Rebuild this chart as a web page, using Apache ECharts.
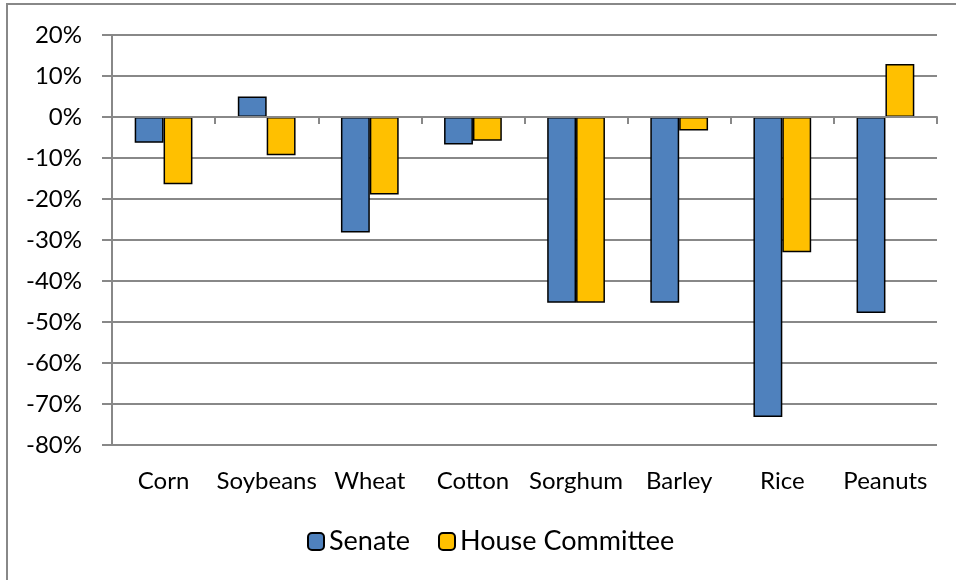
<!DOCTYPE html>
<html>
<head>
<meta charset="utf-8">
<script src="https://cdn.jsdelivr.net/npm/echarts@6/dist/echarts.min.js"></script>
<style>
  html, body { margin: 0; padding: 0; background: #fff; }
  #chart { width: 956px; height: 580px; }
</style>
</head>
<body>
<div id="chart"></div>
<script>
'use strict';

var categories = ['Corn', 'Soybeans', 'Wheat', 'Cotton', 'Sorghum', 'Barley', 'Rice', 'Peanuts'];
var senate = [-6.3, 5.0, -28.2, -6.7, -45.3, -45.3, -73.2, -47.8];
var houseCommittee = [-16.4, -9.3, -18.9, -5.8, -45.3, -3.3, -33.0, 12.9];
var yTicks = { min: -80, max: 20, interval: 10 };

var font = 'Lato, "Open Sans", sans-serif';
var gray = '#888888';

var chart = echarts.init(document.getElementById('chart'));

var option = {
    backgroundColor: '#ffffff',
    textStyle: { fontFamily: font },
    animation: false,
    graphic: [{
        type: 'rect',
        shape: { x: 7, y: 4, width: 1000, height: 1000 },
        style: { fill: 'none', stroke: gray, lineWidth: 2 },
        silent: true
    }],
    grid: { left: 112, right: 19, top: 35, bottom: 135 },
    legend: {
        left: 302,
        top: 523,
        itemWidth: 16,
        itemHeight: 17,
        itemGap: 28,
        textStyle: { fontFamily: font, fontSize: 27, color: '#000' },
        data: ['Senate', 'House Committee']
    },
    xAxis: [{
        // axis line on the 0% gridline, ticks pointing down
        type: 'category',
        position: 'top',
        data: categories,
        z: 5,
        axisLine: { onZero: true, lineStyle: { color: gray, width: 2 } },
        axisTick: { show: true, inside: true, length: 7, lineStyle: { color: gray, width: 2 } },
        axisLabel: { show: false },
        splitLine: { show: false }
    }, {
        // labels along the bottom
        type: 'category',
        position: 'bottom',
        data: categories,
        axisLine: { show: false, onZero: false },
        axisTick: { show: false },
        axisLabel: { interval: 0, margin: 24, fontFamily: font, fontSize: 24, color: '#000' },
        splitLine: { show: false }
    }],
    yAxis: {
        type: 'value',
        min: yTicks.min,
        max: yTicks.max,
        interval: yTicks.interval,
        axisLine: { show: true, lineStyle: { color: gray, width: 2 } },
        axisTick: { show: true, length: 10, lineStyle: { color: gray, width: 2 } },
        axisLabel: {
            margin: 30,
            fontFamily: font,
            fontSize: 24,
            color: '#000',
            formatter: function (v) { return v + '%'; }
        },
        splitLine: { show: true, lineStyle: { color: gray, width: 2 } }
    },
    series: [{
        name: 'Senate',
        type: 'bar',
        xAxisIndex: 0,
        data: senate,
        barGap: '0%',
        barCategoryGap: '44%',
        itemStyle: { color: '#4F81BD', borderColor: '#000', borderWidth: 1.5 }
    }, {
        name: 'House Committee',
        type: 'bar',
        xAxisIndex: 0,
        data: houseCommittee,
        barGap: '0%',
        barCategoryGap: '44%',
        itemStyle: { color: '#FFC000', borderColor: '#000', borderWidth: 1.5 }
    }]
};

chart.setOption(option);
</script>
</body>
</html>
